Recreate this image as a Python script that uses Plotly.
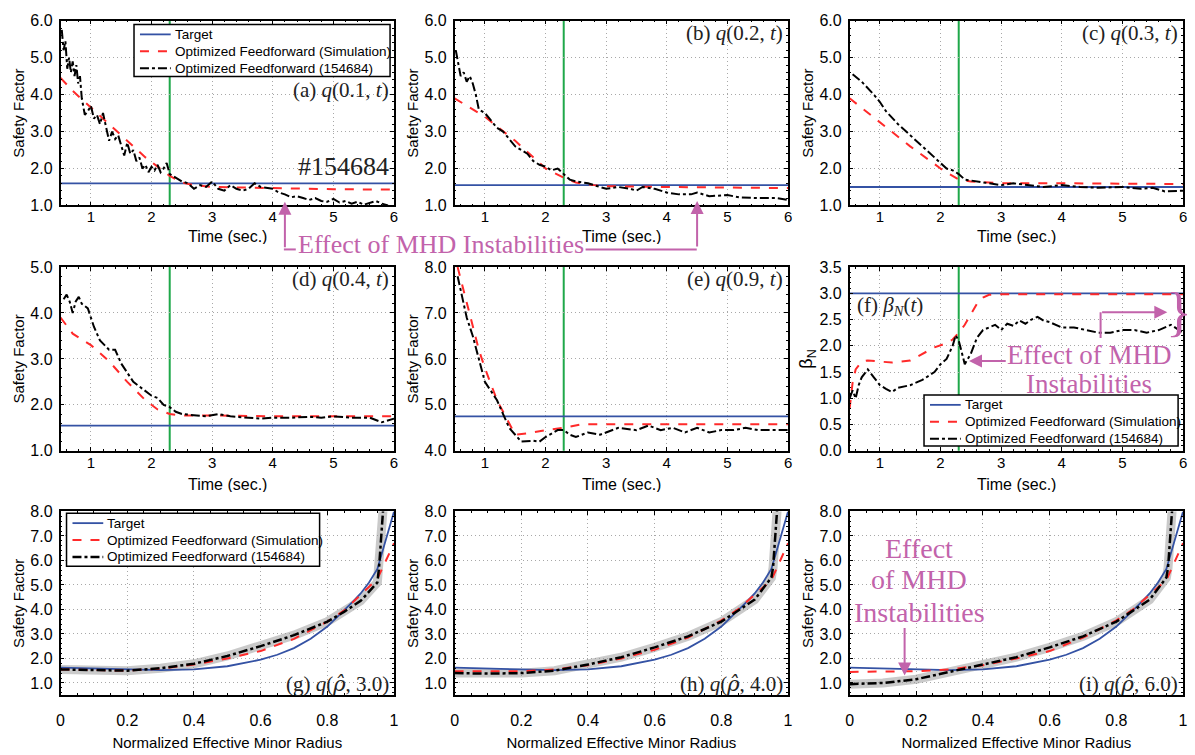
import plotly.graph_objects as go

W, H = 1195, 755

# ---------------- DATA ----------------
switch_time = 2.3

# (a) q(0.1,t)
a_target = 1.6
a_sim_t = [0.5, 0.7, 0.9, 1.1, 1.3, 1.5, 1.7, 1.9, 2.1, 2.3, 2.5, 2.7, 3.0, 3.5, 4.0, 5.0, 6.0]
a_sim_q = [4.45, 4.1, 3.8, 3.5, 3.2, 2.9, 2.6, 2.3, 2.05, 1.8, 1.62, 1.55, 1.5, 1.48, 1.46, 1.44, 1.43]
a_exp_t = [0.52, 0.55, 0.58, 0.61, 0.64, 0.67, 0.70, 0.73, 0.76, 0.79, 0.82, 0.85, 0.9, 0.95, 1.0, 1.05,
           1.1, 1.15, 1.2, 1.25, 1.3, 1.35, 1.4, 1.45, 1.5, 1.55, 1.6, 1.65, 1.7, 1.75, 1.8, 1.85, 1.9,
           1.95, 2.0, 2.05, 2.1, 2.15, 2.2, 2.25, 2.3, 2.4, 2.5, 2.6, 2.7, 2.8, 2.9, 3.0, 3.1, 3.2, 3.3,
           3.4, 3.5, 3.6, 3.7, 3.8, 3.9, 4.0, 4.1, 4.2, 4.3, 4.4, 4.5, 4.6, 4.7, 4.8, 4.9, 5.0, 5.1, 5.2,
           5.3, 5.4, 5.5, 5.6, 5.7, 5.8, 5.9]
a_exp_q = [5.75, 5.2, 5.45, 4.7, 5.0, 4.6, 4.9, 4.5, 4.8, 4.3, 4.5, 3.9, 3.45, 3.55, 3.7, 3.35,
           3.45, 3.2, 3.5, 3.1, 2.75, 3.0, 2.8, 2.9, 2.6, 2.35, 2.7, 2.4, 2.5, 2.2, 2.3, 2.0, 2.1,
           1.9, 2.05, 1.95, 2.1, 1.9, 2.0, 2.15, 1.85, 1.75, 1.65, 1.6, 1.45, 1.55, 1.5, 1.65, 1.45, 1.4, 1.55,
           1.45, 1.4, 1.45, 1.6, 1.5, 1.48, 1.45, 1.35, 1.3, 1.22, 1.25, 1.2, 1.15, 1.2, 1.12, 1.1, 1.18, 1.08, 1.12,
           1.05, 1.1, 1.02, 1.08, 1.12, 1.05, 1.0]

# (b) q(0.2,t)
b_target = 1.55
b_sim_t = [0.5, 1.0, 1.5, 2.0, 2.3, 2.5, 2.8, 3.0, 4.0, 5.0, 6.0]
b_sim_q = [3.9, 3.4, 2.75, 2.0, 1.75, 1.62, 1.55, 1.52, 1.5, 1.48, 1.47]
b_exp_t = [0.52, 0.55, 0.6, 0.65, 0.7, 0.75, 0.8, 0.85, 0.9, 1.0, 1.1, 1.2, 1.3, 1.4, 1.5, 1.6, 1.7,
           1.8, 1.9, 2.0, 2.1, 2.2, 2.3, 2.4, 2.5, 2.7, 2.9, 3.0, 3.2, 3.4, 3.5, 3.6, 3.8, 4.0, 4.2,
           4.4, 4.5, 4.7, 5.0, 5.2, 5.5, 5.8, 6.0]
b_exp_q = [5.2, 4.9, 4.5, 4.6, 4.35, 4.5, 4.3, 4.0, 3.6, 3.5, 3.3, 3.1, 3.0, 2.8, 2.6, 2.5, 2.4,
           2.2, 2.1, 2.05, 1.95, 2.0, 1.85, 1.7, 1.65, 1.6, 1.5, 1.45, 1.5, 1.45, 1.4, 1.5, 1.45, 1.35, 1.3,
           1.3, 1.35, 1.25, 1.28, 1.22, 1.2, 1.2, 1.15]

# (c) q(0.3,t)
c_target = 1.5
c_sim_t = [0.5, 1.0, 1.5, 2.0, 2.3, 2.5, 3.0, 4.0, 6.0]
c_sim_q = [3.9, 3.25, 2.6, 2.0, 1.7, 1.65, 1.6, 1.6, 1.58]
c_exp_t = [0.55, 0.7, 0.9, 1.0, 1.1, 1.3, 1.5, 1.7, 1.9, 2.1, 2.2, 2.3, 2.4, 2.6, 2.8, 3.0, 3.2,
           3.5, 3.7, 4.0, 4.3, 4.6, 5.0, 5.3, 5.5, 5.7, 6.0]
c_exp_q = [4.55, 4.35, 4.0, 3.8, 3.55, 3.2, 2.9, 2.6, 2.3, 2.0, 1.95, 1.85, 1.7, 1.65, 1.62, 1.55, 1.6,
           1.55, 1.5, 1.55, 1.5, 1.48, 1.5, 1.45, 1.48, 1.38, 1.4]

# (d) q(0.4,t)
d_target = 1.55
d_sim_t = [0.5, 0.7, 1.0, 1.3, 1.6, 1.9, 2.1, 2.3, 2.5, 3.0, 4.0, 6.0]
d_sim_q = [3.9, 3.55, 3.3, 2.95, 2.5, 2.1, 1.9, 1.8, 1.77, 1.77, 1.75, 1.75]
d_exp_t = [0.55, 0.6, 0.65, 0.7, 0.75, 0.8, 0.85, 0.95, 1.05, 1.15, 1.3, 1.4, 1.5, 1.6, 1.7, 1.8,
           1.9, 2.0, 2.1, 2.2, 2.3, 2.4, 2.5, 2.7, 2.9, 3.1, 3.3, 3.6, 3.8, 4.0, 4.3, 4.6, 4.8, 5.0,
           5.3, 5.6, 5.8, 6.0]
d_exp_q = [4.3, 4.4, 4.25, 4.0, 4.25, 4.35, 4.2, 4.1, 3.7, 3.4, 3.2, 3.2, 2.9, 2.7, 2.5, 2.4,
           2.3, 2.2, 2.15, 2.0, 1.95, 1.85, 1.8, 1.78, 1.75, 1.8, 1.75, 1.72, 1.7, 1.72, 1.72, 1.74, 1.72, 1.75,
           1.72, 1.72, 1.62, 1.7]

# (e) q(0.9,t)
e_target = 4.75
e_sim_t = [0.55, 0.7, 0.9, 1.0, 1.2, 1.4, 1.5, 1.7, 2.0, 2.3, 2.5, 2.6, 3.0, 6.0]
e_sim_q = [8.0, 7.2, 6.2, 5.8, 5.1, 4.6, 4.35, 4.38, 4.45, 4.5, 4.55, 4.58, 4.58, 4.58]
e_exp_t = [0.55, 0.6, 0.7, 0.8, 0.9, 1.0, 1.1, 1.2, 1.3, 1.4, 1.5, 1.6, 1.8, 1.9, 2.0, 2.2, 2.3,
           2.4, 2.5, 2.7, 2.9, 3.0, 3.2, 3.5, 3.7, 3.9, 4.1, 4.3, 4.5, 4.7, 4.9, 5.1, 5.3, 5.5, 5.7, 6.0]
e_exp_q = [7.8, 7.5, 6.9, 6.5, 6.0, 5.5, 5.3, 5.1, 4.8, 4.5, 4.35, 4.2, 4.22, 4.2, 4.3, 4.45, 4.45,
           4.35, 4.3, 4.4, 4.35, 4.4, 4.5, 4.45, 4.55, 4.45, 4.5, 4.4, 4.5, 4.4, 4.45, 4.45, 4.5, 4.45, 4.45, 4.45]

# (f) beta_N(t)
f_target = 3.0
f_sim_t = [0.5, 0.55, 0.6, 0.7, 0.8, 1.0, 1.2, 1.5, 1.7, 1.9, 2.1, 2.2, 2.3, 2.4, 2.5, 2.6, 2.7, 2.8, 3.0, 6.0]
f_sim_b = [0.8, 1.3, 1.55, 1.7, 1.72, 1.7, 1.68, 1.72, 1.85, 1.97, 2.05, 2.12, 2.25, 2.4, 2.6, 2.8, 2.92, 2.97, 2.98, 2.98]
f_exp_t = [0.5, 0.55, 0.6, 0.65, 0.7, 0.8, 0.9, 1.0, 1.1, 1.2, 1.3, 1.5, 1.7, 1.9, 2.0, 2.1, 2.2, 2.25,
           2.3, 2.35, 2.4, 2.5, 2.6, 2.7, 2.9, 3.0, 3.1, 3.2, 3.3, 3.4, 3.5, 3.6, 3.7, 3.8, 4.0, 4.2, 4.4,
           4.6, 4.8, 5.0, 5.2, 5.4, 5.6, 5.8, 6.0]
f_exp_b = [1.0, 1.15, 1.0, 1.25, 1.4, 1.55, 1.4, 1.25, 1.18, 1.12, 1.2, 1.25, 1.35, 1.5, 1.65, 1.75, 2.0, 2.2,
           2.1, 1.85, 1.65, 1.85, 2.15, 2.3, 2.4, 2.3, 2.42, 2.38, 2.48, 2.42, 2.5, 2.55, 2.48, 2.45, 2.35, 2.35, 2.3,
           2.25, 2.25, 2.3, 2.3, 2.25, 2.3, 2.4, 2.25]

# (g)(h)(i) profiles
rho = [0.0, 0.1, 0.2, 0.3, 0.4, 0.5, 0.6, 0.65, 0.7, 0.75, 0.8, 0.85, 0.875, 0.9, 0.925, 0.95, 0.975, 1.0]
prof_target = [1.62, 1.58, 1.53, 1.52, 1.55, 1.68, 1.95, 2.15, 2.42, 2.8, 3.3, 3.95, 4.3, 4.65, 5.1, 5.65, 6.8, 8.0]
rho_sim = [0.0, 0.1, 0.2, 0.3, 0.4, 0.5, 0.6, 0.7, 0.8, 0.85, 0.9, 0.95, 1.0]
g_sim = [1.55, 1.52, 1.5, 1.58, 1.75, 2.0, 2.3, 2.8, 3.5, 3.95, 4.6, 5.25, 6.7]
h_sim = [1.48, 1.48, 1.48, 1.55, 1.72, 2.0, 2.35, 2.85, 3.55, 4.0, 4.6, 5.2, 6.7]
i_sim = [1.45, 1.45, 1.48, 1.55, 1.72, 2.0, 2.3, 2.85, 3.55, 4.0, 4.6, 5.2, 6.7]
rho_exp = [0.0, 0.1, 0.2, 0.3, 0.4, 0.5, 0.6, 0.7, 0.8, 0.85, 0.9, 0.95, 0.955, 0.97]
g_exp = [1.55, 1.53, 1.5, 1.6, 1.78, 2.1, 2.5, 2.95, 3.5, 3.9, 4.35, 5.1, 5.7, 8.6]
h_exp = [1.4, 1.38, 1.4, 1.5, 1.75, 2.05, 2.45, 2.9, 3.5, 3.95, 4.4, 5.3, 5.7, 8.6]
i_exp = [0.95, 1.0, 1.15, 1.45, 1.75, 2.05, 2.45, 2.9, 3.5, 3.95, 4.4, 5.3, 5.7, 8.6]

RHOHAT = '<span style="font-family:DejaVu Serif">ρ̂</span>'
panel_labels = ["(a) <i>q</i>(0.1, <i>t</i>)", "(b) <i>q</i>(0.2, <i>t</i>)", "(c) <i>q</i>(0.3, <i>t</i>)",
                "(d) <i>q</i>(0.4, <i>t</i>)", "(e) <i>q</i>(0.9, <i>t</i>)", "(f) <i>β<sub>N</sub></i>(<i>t</i>)",
                f"(g) <i>q</i>(<i>{RHOHAT}</i>, 3.0)", f"(h) <i>q</i>(<i>{RHOHAT}</i>, 4.0)",
                f"(i) <i>q</i>(<i>{RHOHAT}</i>, 6.0)"]
names = ["Target", "Optimized Feedforward (Simulation)", "Optimized Feedforward (154684)"]

# ---------------- STYLE ----------------
BLUE = "#3452a4"
RED = "#ff2a2a"
GREEN = "#1fa84a"
MAG = "#c263ab"
SANS = "Liberation Sans, Arial, sans-serif"
SERIF = "Liberation Serif, Times New Roman, serif"

def px(x):
    return x / W

def py(y):
    return 1 - y / H

col_px = [(57, 393), (454, 790), (852, 1188)]
row_px = [(13, 202), (265, 453), (515, 703)]
time_title_y = [234, 487]

fig = go.Figure()

def axid(k, kind):
    return kind if k == 1 else f"{kind}{k}"

def add_line(k, x, y, name, color, dash, width):
    fig.add_trace(go.Scatter(x=x, y=y, mode="lines", name=name,
                             line=dict(color=color, dash=dash, width=width),
                             xaxis=axid(k, "x"), yaxis=axid(k, "y"),
                             showlegend=False, hoverinfo="skip"))

time_panels = [
    (1, a_target, a_sim_t, a_sim_q, a_exp_t, a_exp_q),
    (2, b_target, b_sim_t, b_sim_q, b_exp_t, b_exp_q),
    (3, c_target, c_sim_t, c_sim_q, c_exp_t, c_exp_q),
    (4, d_target, d_sim_t, d_sim_q, d_exp_t, d_exp_q),
    (5, e_target, e_sim_t, e_sim_q, e_exp_t, e_exp_q),
    (6, f_target, f_sim_t, f_sim_b, f_exp_t, f_exp_b),
]
for k, tgt, st, sq, et, eq in time_panels:
    add_line(k, [0.5, 6.0], [tgt, tgt], names[0], BLUE, "solid", 1.8)
    add_line(k, st, sq, names[1], RED, "dash", 2)
    add_line(k, et, eq, names[2], "black", "dashdot", 2)

prof_panels = [(7, g_sim, g_exp), (8, h_sim, h_exp), (9, i_sim, i_exp)]
for k, sim, exp in prof_panels:
    # grey uncertainty band drawn as a wide translucent line under the measured profile
    fig.add_trace(go.Scatter(x=rho_exp, y=exp, mode="lines", line=dict(color="rgba(150,150,150,0.5)", width=9),
                             xaxis=axid(k, "x"), yaxis=axid(k, "y"), showlegend=False, hoverinfo="skip"))
    add_line(k, rho, prof_target, names[0], BLUE, "solid", 1.8)
    add_line(k, rho_sim, sim, names[1], RED, "dash", 2)
    add_line(k, rho_exp, exp, names[2], "black", "dashdot", 2.5)

yranges = [[1, 6], [1, 6], [1, 6], [1, 5], [4, 8], [0, 3.5], [0.5, 8], [0.5, 8], [0.5, 8]]
ydticks = [1, 1, 1, 1, 1, 0.5, 1, 1, 1]

layout = dict(width=W, height=H, margin=dict(l=0, r=0, t=0, b=0),
              plot_bgcolor="white", paper_bgcolor="white",
              font=dict(family=SANS, size=14, color="black"),
              shapes=[], annotations=[], showlegend=False)

common = dict(showline=True, linecolor="black", linewidth=1.5, mirror="ticks",
              ticks="inside", ticklen=4, tickwidth=1, tickcolor="black",
              showgrid=True, gridcolor="#a8a8a8", griddash="1px,3px", gridwidth=1,
              zeroline=False, tickfont=dict(family=SANS, size=16, color="black"),
              minor=dict(ticks="inside", ticklen=2, tickcolor="black", showgrid=False))

for k in range(1, 10):
    r, c = (k - 1) // 3, (k - 1) % 3
    x0, x1 = col_px[c]
    y0, y1 = row_px[r]
    xa = dict(common, domain=[px(x0), px(x1)], anchor=axid(k, "y"))
    ya = dict(common, domain=[py(y1), py(y0)], anchor=axid(k, "x"),
              range=yranges[k - 1], dtick=ydticks[k - 1], tick0=0, tickformat=".1f",
              ticklabelstandoff=3)
    if r < 2:
        xa.update(range=[0.5, 6], dtick=1, tick0=0, ticklabelstandoff=-3,
                  tickfont=dict(family=SANS, size=15, color="black"))
        # x-axis title placed precisely under the tick labels
        layout["annotations"].append(dict(text="Time (sec.)", xref="paper", yref="paper",
                                          x=px((x0 + x1) / 2), y=py(time_title_y[r]),
                                          xanchor="center", yanchor="middle", height=15, valign="middle",
                                          showarrow=False, font=dict(family=SANS, size=16, color="black")))
    else:
        xa.update(range=[0, 1], dtick=0.2, tick0=0, ticklabelstandoff=10,
                  title=dict(text="Normalized Effective Minor Radius", font=dict(family=SANS, size=15), standoff=9))
    if k == 6:
        ya["title"] = dict(text="β<sub>N</sub>", font=dict(family=SANS, size=18), standoff=2)
    else:
        ya["title"] = dict(text="Safety Factor", font=dict(family=SANS, size=15), standoff=2)
    layout["xaxis" if k == 1 else f"xaxis{k}"] = xa
    layout["yaxis" if k == 1 else f"yaxis{k}"] = ya

    # vertical green line at controller switch time
    if r < 2:
        layout["shapes"].append(dict(type="line", xref=axid(k, "x"), yref=f"{axid(k, 'y')} domain",
                                     x0=switch_time, x1=switch_time, y0=0, y1=1,
                                     line=dict(color=GREEN, width=2), layer="below"))

    # panel labels
    if k == 6:
        lab = dict(x=0.015, y=0.79, xanchor="left", yanchor="middle")
    elif k >= 7:
        lab = dict(x=0.99, y=0.06, xanchor="right", yanchor="middle")
    elif k == 1:
        lab = dict(x=0.99, y=0.625, xanchor="right", yanchor="middle")
    else:
        lab = dict(x=0.99, y=0.935, xanchor="right", yanchor="middle")
    layout["annotations"].append(dict(text=panel_labels[k - 1], xref=f"{axid(k, 'x')} domain",
                                      yref=f"{axid(k, 'y')} domain", showarrow=False,
                                      font=dict(family=SERIF, size=21, color="#222"), **lab))

# shot number in (a)
layout["annotations"].append(dict(text="#154684", xref="x domain", yref="y domain", x=0.99, y=0.21,
                                  xanchor="right", yanchor="middle", showarrow=False,
                                  font=dict(family=SERIF, size=26, color="#222")))

# ---- legend boxes (panels a, f, g) ----
leg_styles = [(BLUE, "solid", 1.8), (RED, "dash", 2), ("black", "dashdot", 2)]
def add_legend(L, T, R, B, black_w=2.0):
    layout["shapes"].append(dict(type="rect", xref="paper", yref="paper", x0=px(L), x1=px(R),
                                 y0=py(B), y1=py(T), line=dict(color="black", width=1.5),
                                 fillcolor="white", layer="above"))
    for i, (nm, (col, dash, wd)) in enumerate(zip(names, leg_styles)):
        yy = T + 10 + 17.3 * i
        if i == 2:
            wd = black_w
        layout["shapes"].append(dict(type="line", xref="paper", yref="paper", x0=px(L + 6), x1=px(L + 37),
                                     y0=py(yy), y1=py(yy), line=dict(color=col, dash=dash, width=wd),
                                     layer="above"))
        layout["annotations"].append(dict(text=nm, xref="paper", yref="paper", x=px(L + 39), y=py(yy),
                                          xanchor="left", yanchor="middle", showarrow=False,
                                          font=dict(family=SANS, size=13.5, color="black")))

add_legend(131, 17, 389, 70)
add_legend(927, 396, 1183, 448)
add_legend(63, 517, 318, 571, black_w=2.5)

# ---- "Effect of MHD Instabilities" annotations ----
mfont = dict(family=SERIF, size=27, color=MAG)
arrow_common = dict(showarrow=True, arrowhead=2, arrowsize=1.3, arrowwidth=2, arrowcolor=MAG, text="")
# main text between (a) and (b)
layout["annotations"].append(dict(text="Effect of MHD Instabilities", xref="paper", yref="paper",
                                  x=px(440), y=py(242), xanchor="center", yanchor="middle",
                                  showarrow=False, font=dict(family=SERIF, size=26, color=MAG)))
layout["annotations"].append(dict(arrow_common, x=4.2, y=1.1, xref="x", yref="y", ax=0, ay=47))
layout["annotations"].append(dict(arrow_common, x=4.5, y=1.12, xref="x2", yref="y2", ax=0, ay=47))
layout["shapes"].append(dict(type="line", xref="paper", yref="paper", x0=px(282), x1=px(294),
                             y0=py(247), y1=py(247), line=dict(color=MAG, width=2)))
layout["shapes"].append(dict(type="line", xref="paper", yref="paper", x0=px(586), x1=px(698),
                             y0=py(247), y1=py(247), line=dict(color=MAG, width=2)))

# (f) annotations
layout["annotations"].append(dict(text="Effect of MHD", xref="paper", yref="paper", x=px(1093), y=py(355),
                                  xanchor="center", yanchor="middle", showarrow=False, font=mfont))
layout["annotations"].append(dict(text="Instabilities", xref="paper", yref="paper", x=px(1093), y=py(385),
                                  xanchor="center", yanchor="middle", showarrow=False, font=mfont))
layout["annotations"].append(dict(arrow_common, x=2.47, y=1.71, xref="x6", yref="y6",
                                  ax=3.1, ay=1.71, axref="x6", ayref="y6"))
layout["annotations"].append(dict(arrow_common, x=5.74, y=2.64, xref="x6", yref="y6",
                                  ax=4.64, ay=2.64, axref="x6", ayref="y6"))
layout["shapes"].append(dict(type="line", xref="x6", yref="y6", x0=4.64, x1=4.64, y0=2.15, y1=2.64,
                             line=dict(color=MAG, width=2)))
layout["annotations"].append(dict(text="}", xref="x6", yref="y6", x=5.93, y=2.64, xanchor="center",
                                  yanchor="middle", showarrow=False,
                                  font=dict(family=SERIF, size=54, color=MAG)))

# (i) annotations
for txt, yy in [("Effect", 553), ("of MHD", 585), ("Instabilities", 618)]:
    layout["annotations"].append(dict(text=txt, xref="paper", yref="paper", x=px(922), y=py(yy),
                                      xanchor="center", yanchor="middle", showarrow=False,
                                      font=dict(family=SERIF, size=28, color=MAG)))
layout["annotations"].append(dict(arrow_common, x=0.165, y=1.3, xref="x9", yref="y9",
                                  ax=0.165, ay=3.3, axref="x9", ayref="y9"))

fig.update_layout(**layout)
fig.write_html("out.html")
